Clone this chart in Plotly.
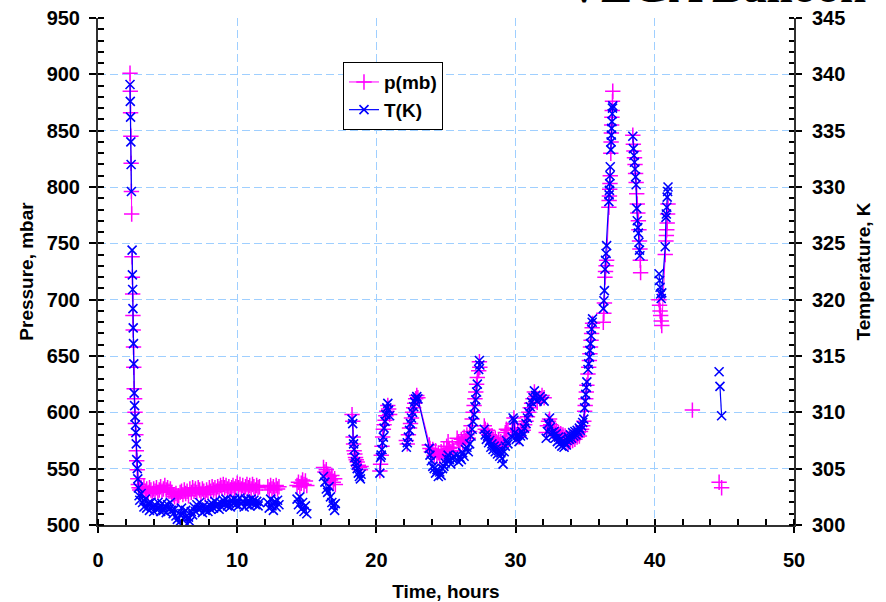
import plotly.graph_objects as go

# Flight record: elapsed time (hours), pressure (mbar) and temperature (K).
# None rows mark breaks in the telemetry so the traces are not joined across them.
hours = [
    2.30, 2.32, 2.34, 2.36, 2.38, 2.40, 2.42, None,
    2.45, 2.47, 2.49, 2.51, 2.53, 2.55, 2.57, 2.60, 2.63, 2.66, 2.69, 2.72, 2.75, 2.78, 2.82, 2.86, 2.90, 2.95, 3.00,
    3.1, 3.2, 3.3, 3.4, 3.5, 3.6, 3.7, 3.8, 3.9, 4.0, 4.1, 4.2, 4.3, 4.4, 4.5, 4.6, 4.7, 4.8, 4.9, 5.0,
    5.1, 5.2, 5.3, 5.4, 5.5, 5.6, 5.7, 5.8, 5.9, 6.0, 6.1, 6.2, 6.3, 6.4, 6.5, 6.6, 6.7, 6.8, 6.9, 7.0,
    7.1, 7.2, 7.3, 7.4, 7.5, 7.6, 7.7, 7.8, 7.9, 8.0, 8.1, 8.2, 8.3, 8.4, 8.5, 8.6, 8.7, 8.8, 8.9, 9.0,
    9.1, 9.2, 9.3, 9.4, 9.5, 9.6, 9.7, 9.8, 9.9, 10.0, 10.1, 10.2, 10.3, 10.4, 10.5, 10.6, 10.7, 10.8, 10.9, 11.0,
    11.1, 11.2, 11.3, 11.4, 11.5, 11.6, None,
    12.2, 12.3, 12.4, 12.5, 12.6, 12.7, 12.8, 12.9, 13.0, None,
    14.3, 14.4, 14.5, 14.6, 14.7, 14.8, 14.9, 15.0, None,
    16.2, 16.3, 16.4, 16.5, 16.6, 16.7, 16.8, 16.9, 17.0, 17.05, None,
    18.25, 18.30, 18.33, 18.36, 18.40, 18.45, 18.50, 18.55, 18.62, 18.70, 18.78, 18.85, 18.90, None,
    20.25, 20.30, 20.35, 20.40, 20.45, 20.50, 20.55, 20.62, 20.68, 20.75, 20.82, 20.88, 20.95, None,
    22.15, 22.22, 22.30, 22.38, 22.45, 22.52, 22.60, 22.68, 22.75, 22.82, 22.90, 22.98,
    23.80, 23.85, 23.95, 24.05, 24.15, 24.25, 24.35, 24.45, 24.55, 24.65, 24.75, 24.85, 24.95, 25.05, 25.15,
    25.25, 25.35, 25.45, 25.55, None,
    25.80, 25.90, 26.00, 26.10, 26.20, 26.30, 26.40, 26.50, 26.60, 26.70, 26.80, 26.88, 26.95, 27.02, 27.08,
    27.14, 27.20, 27.25, None, 27.35, 27.40, 27.43, None,
    27.75, 27.82, 27.90, 27.98, 28.06, 28.14, 28.22, 28.30, 28.38, 28.46, 28.54, 28.62, 28.70, 28.78, 28.86,
    28.94, 29.02, 29.10, 29.18, 29.26, 29.34, 29.45, None,
    29.75, 29.82, 29.88, 29.95, 30.05, 30.15, 30.25, 30.35, 30.45, 30.55, 30.65, 30.75, 30.85, 30.95, 31.05,
    31.15, 31.25, 31.35, 31.45, 31.55, 31.75, 31.90, 32.05, None,
    32.20, 32.28, 32.36, 32.44, 32.52, 32.60, 32.68, 32.76, 32.84, 32.92, 33.00, 33.08, 33.16, 33.24, 33.32,
    33.40, 33.48, 33.56, 33.64,
    33.70, 33.78, 33.86, 33.94, 34.02, 34.10, 34.18, 34.26, 34.34, 34.42, 34.50, 34.58, 34.66, 34.74, 34.82,
    34.90, 34.96, 35.00, 35.04, 35.08, 35.12, None,
    35.20, 35.25, 35.30, 35.34, 35.38, 35.42, 35.46, 35.50, 35.53, None,
    36.30, 36.34, 36.38, 36.42, 36.46, 36.50, 36.54, 36.70, 36.72, 36.74, 36.76, 36.78, 36.80, None,
    36.84, 36.86, 36.88, 36.90, 36.92, 36.94, 36.96, 36.98, None,
    38.42, 38.46, 38.50, 38.54, 38.58, 38.62, 38.66, 38.70, 38.74, 38.78, 38.82, 38.86, 38.90, 38.93, 38.96,
    38.98, None,
    40.30, 40.34, 40.38, 40.42, 40.46, 40.50, 40.75, 40.80, 40.83, 40.86, 40.89, 40.92, 40.95, None,
    42.70, None,
    44.62, None, 44.68, 44.80,
]

p_mb = [
    901, 885, 866, 845, 821, 796, 776, None,
    738, 720, 705, 686, 673, 658, 640, 621, 612, 600, 590, 580, 566, 557, 549, 541, 536, 533, 531,
    533, 531, 534, 530, 532, 529, 533, 531, 528, 532, 530, 533, 529, 531, 534, 530, 532, 535, 531, 533,
    530, 532, 529, 527, 525, 528, 524, 526, 529, 530, 527, 531, 528, 530, 526, 532, 529, 533, 530, 532,
    529, 533, 531, 528, 532, 530, 527, 531, 529, 533, 530, 534, 531, 533, 530, 534, 532, 535, 533, 536,
    533, 535, 532, 534, 531, 533, 535, 532, 534, 537, 533, 536, 532, 535, 531, 534, 536, 533, 535, 532,
    536, 534, 531, 535, 533, 534, None,
    534, 531, 535, 532, 534, 531, 535, 532, 534, None,
    535, 538, 534, 537, 540, 536, 539, 535, None,
    551, 547, 549, 545, 543, 540, 544, 538, 541, 536, None,
    598, 592, 578, 572, 566, 563, 560, 558, 556, 553, 551, 549, 552, None,
    548, 554, 562, 570, 578, 585, 589, 593, 597, 601, 606, 603, 598, None,
    575, 572, 580, 586, 590, 595, 600, 604, 608, 612, 615, 613,
    571, 568, 565, 567, 562, 566, 561, 564, 560, 565, 562, 567, 563, 570, 574,
    568, 565, 569, 566, None,
    577, 574, 572, 576, 573, 578, 575, 580, 577, 583, 588, 594, 600, 606, 612,
    618, 625, 631, None, 637, 645, 640, None,
    588, 585, 582, 584, 580, 578, 575, 579, 576, 573, 577, 574, 572, 575, 571,
    574, 570, 573, 577, 582, 585, 584, None,
    586, 590, 595, 585, 580, 583, 578, 582, 586, 584, 589, 592, 596, 600, 604,
    608, 612, 618, 614, 609, 612, 615, 613, None,
    582, 588, 592, 594, 589, 586, 583, 586, 581, 584, 579, 582, 578, 581, 577,
    580, 576, 579, 577,
    575, 573, 577, 574, 578, 575, 579, 576, 580, 578, 582, 579, 583, 585, 588,
    592, 601, 606, 612, 618, 624, None,
    634, 640, 646, 652, 658, 664, 670, 675, 679, None,
    680, 688, 697, 720, 725, 730, 735, 782, 788, 792, 798, 803, 810, None,
    830, 840, 848, 855, 862, 868, 876, 885, None,
    846, 838, 832, 826, 820, 812, 804, 794, 785, 777, 770, 762, 752, 745, 735,
    724, None,
    700, 695, 690, 686, 681, 677, 740, 752, 757, 762, 768, 776, 785, None,
    602, None,
    538, None, None, 533,
]

t_k = [
    339.1, 337.6, 336.2, 334.0, 332.0, 329.6, None, None,
    324.4, 322.2, 320.9, 319.2, 317.5, 316.1, 314.3, 311.7, 310.6, 309.6, 308.9, 308.2, 307.2, 305.8, 305.0, 304.1,
    303.3, 302.6, 302.2,
    302.8, 302.0, 301.6, 302.3, 301.5, 301.9, 301.3, 302.0, 301.6, 301.2, 301.8, 301.4, 302.0, 301.5, 301.2, 301.9,
    301.3, 301.7, 301.1, 301.8,
    301.4, 302.0, 301.3, 301.0, 301.4, 300.8, 300.5, 300.2, 300.9, 301.5, 301.0, 300.6, 301.3, 300.1, 300.7, 300.3,
    301.2, 300.9, 301.6, 301.2,
    301.8, 301.4, 302.0, 301.5, 301.1, 301.7, 301.3, 301.6, 301.2, 301.8, 301.4, 301.9, 301.5, 302.1, 301.6, 301.9,
    301.4, 302.0, 301.6, 302.2,
    301.8, 302.3, 301.7, 302.0, 301.6, 302.2, 301.9, 302.3, 301.8, 302.2, 301.7, 302.4, 301.9, 302.1, 301.6, 302.3,
    301.8, 302.2, 301.7, 302.3,
    301.9, 302.2, 301.8, 302.1, 301.7, 302.0, None,
    302.0, 301.5, 302.3, 301.7, 301.3, 302.1, 301.6, 302.2, 301.8, None,
    302.3, 301.8, 302.5, 301.4, 302.0, 301.2, 301.7, 301.0, None,
    304.3, 303.8, 303.2, 302.9, 303.4, 302.5, 302.0, 301.7, 301.3, 301.9, None,
    309.4, 309.0, 307.6, 307.2, 306.7, 306.0, 305.6, 305.3, 305.0, 304.6, 304.3, 304.1, 304.5, None,
    304.6, 306.0, 306.2, 306.7, 307.3, 307.8, 308.6, 309.2, 309.8, 310.4, 310.8, 310.2, 309.7, None,
    306.9, 307.3, 307.8, 308.4, 309.0, 309.5, 310.0, 310.5, 310.9, 311.2, 311.4, 311.2,
    306.8, 306.2, 305.7, 305.2, 305.0, 304.6, 304.9, 304.3, 304.7, 304.4, 305.0, 305.2, 305.5, 305.9, 306.2,
    305.8, 305.4, 305.9, 306.1, None,
    306.2, 305.6, 306.0, 305.8, 306.4, 306.1, 306.7, 306.9, 306.5, 307.2, 307.9, 308.5, 309.2, 309.8, 310.5,
    311.1, 311.8, 312.5, None, 313.8, 314.6, 314.2, None,
    308.5, 308.0, 307.6, 307.9, 307.3, 307.5, 306.9, 307.2, 306.7, 307.0, 306.5, 306.8, 306.3, 306.6, 306.1,
    306.4, 305.9, 305.4, 306.5, 307.0, 307.5, 307.2, None,
    307.8, 309.5, 309.3, 308.2, 307.6, 308.0, 307.4, 307.9, 308.3, 308.0, 308.6, 309.0, 309.5, 310.0, 310.5,
    310.9, 311.3, 311.9, 311.5, 311.0, 311.4, 311.2, 311.0, None,
    307.7, 308.3, 309.0, 309.5, 308.7, 308.2, 307.9, 308.3, 307.7, 308.1, 307.4, 307.8, 307.2, 307.6, 307.0,
    307.4, 306.9, 307.3, 307.1,
    307.5, 307.8, 307.6, 308.0, 307.7, 308.2, 307.9, 308.3, 308.0, 308.4, 308.2, 308.6, 308.4, 308.8, 309.1,
    309.4, 310.4, 311.0, 311.6, 312.2, 312.7, None,
    313.8, 314.3, 314.9, 315.5, 316.1, 316.8, 317.4, 318.0, 318.3, None,
    319.2, 319.9, 320.8, 322.7, 323.5, 324.1, 324.8, 328.7, 329.3, 329.7, 330.3, 331.0, 331.8, None,
    333.3, 334.0, 334.6, 335.2, 335.8, 336.5, 337.0, 337.2, None,
    334.5, 333.4, 332.8, 332.2, 331.6, 330.9, 330.2, 328.1, 327.0, 326.4, 325.9, 325.1, 324.4, 323.9, None,
    None, None,
    322.3, 321.7, 321.1, 320.5, 320.1, 320.6, 324.7, 327.3, 327.6, 328.2, 329.1, 329.6, 330.0, None,
    None, None,
    313.6, None, 312.3, 309.7,
]

assert len(hours) == len(p_mb) == len(t_k)

x_range = [0, 50]
p_range = [500, 950]
t_range = [300, 345]

MAGENTA = "#FF00FF"
BLUE = "#0000FF"
GRID = "#9FCFFF"
FONT = "Liberation Sans, Arial, sans-serif"
bold = dict(family=FONT, size=19, color="black", weight="bold")
tick_font = dict(family=FONT, size=20, color="black", weight="bold")

fig = go.Figure()
fig.add_trace(go.Scatter(
    x=hours, y=p_mb, name="p(mb)", mode="lines+markers", connectgaps=False,
    line=dict(color=MAGENTA, width=1),
    marker=dict(symbol="cross-thin", size=11, color=MAGENTA, line=dict(color=MAGENTA, width=1.5)),
))
fig.add_trace(go.Scatter(
    x=hours, y=t_k, name="T(K)", yaxis="y2", mode="lines+markers", connectgaps=False,
    line=dict(color=BLUE, width=1.2),
    marker=dict(symbol="x-thin", size=9, color=BLUE, line=dict(color=BLUE, width=1.6)),
))

fig.update_layout(
    template="none",
    width=886, height=602,
    margin=dict(l=98, r=92, t=18, b=77, pad=0),
    paper_bgcolor="white", plot_bgcolor="white",
    showlegend=True,
    legend=dict(
        x=0.352, y=0.913, xanchor="left", yanchor="top",
        bgcolor="white", bordercolor="black", borderwidth=1,
        font=bold, itemwidth=30, tracegroupgap=0,
    ),
    xaxis=dict(
        range=x_range, dtick=10, tick0=0, automargin=False,
        ticks="outside", ticklen=6, tickwidth=1.5, tickcolor="black",
        minor=dict(dtick=2, ticks="inside", ticklen=6, tickwidth=1.5, tickcolor="black", showgrid=False),
        showline=True, linecolor="#303030", linewidth=2,
        showgrid=True, gridcolor=GRID, gridwidth=1, griddash="8px,4px",
        zeroline=False, tickfont=tick_font, ticklabelstandoff=10,
        title=dict(text="Time, hours", font=bold, standoff=18),
    ),
    xaxis2=dict(
        range=x_range, dtick=10, tick0=0, overlaying="x", anchor="y", side="bottom", automargin=False,
        ticks="inside", ticklen=6, tickwidth=1.5, tickcolor="black",
        showticklabels=False, showgrid=False, showline=False, zeroline=False,
    ),
    xaxis3=dict(
        range=x_range, overlaying="x", anchor="y", side="top", automargin=False,
        ticks="", showticklabels=False, showgrid=False, zeroline=False,
        showline=True, linecolor="#808080", linewidth=1.5,
    ),
    yaxis=dict(
        range=p_range, dtick=50, tick0=500, automargin=False,
        ticks="outside", ticklen=7, tickwidth=1.5, tickcolor="black",
        minor=dict(dtick=10, ticks="inside", ticklen=6, tickwidth=1.5, tickcolor="black", showgrid=False),
        showline=True, linecolor="#303030", linewidth=2,
        showgrid=True, gridcolor=GRID, gridwidth=1, griddash="8px,4px",
        zeroline=False, tickfont=tick_font, ticklabelstandoff=5,
        title=dict(text="Pressure, mbar", font=bold, standoff=8),
    ),
    yaxis3=dict(
        range=p_range, dtick=50, tick0=500, overlaying="y", anchor="x", side="left", automargin=False,
        ticks="inside", ticklen=6, tickwidth=1.5, tickcolor="black",
        showticklabels=False, showgrid=False, showline=False, zeroline=False,
    ),
    yaxis2=dict(
        range=t_range, dtick=5, tick0=300, overlaying="y", anchor="x", side="right", automargin=False,
        ticks="outside", ticklen=6, tickwidth=1.5, tickcolor="black",
        minor=dict(dtick=1, ticks="inside", ticklen=5, tickwidth=1.5, tickcolor="black", showgrid=False),
        showline=True, linecolor="#303030", linewidth=2,
        showgrid=False, zeroline=False, tickfont=tick_font, ticklabelstandoff=6,
        title=dict(text="Temperature, K", font=bold, standoff=12),
    ),
    yaxis4=dict(
        range=t_range, dtick=5, tick0=300, overlaying="y", anchor="x", side="right", automargin=False,
        ticks="inside", ticklen=6, tickwidth=1.5, tickcolor="black",
        showticklabels=False, showgrid=False, showline=False, zeroline=False,
    ),
    annotations=[dict(
        text="VEGA Balloon", xref="paper", yref="paper", x=1.106, y=1.0,
        xanchor="right", yanchor="middle", yshift=32, showarrow=False,
        font=dict(family="Liberation Serif, Times New Roman, serif", size=47, color="black", weight="bold"),
    )],
)

fig.write_html("out.html")
